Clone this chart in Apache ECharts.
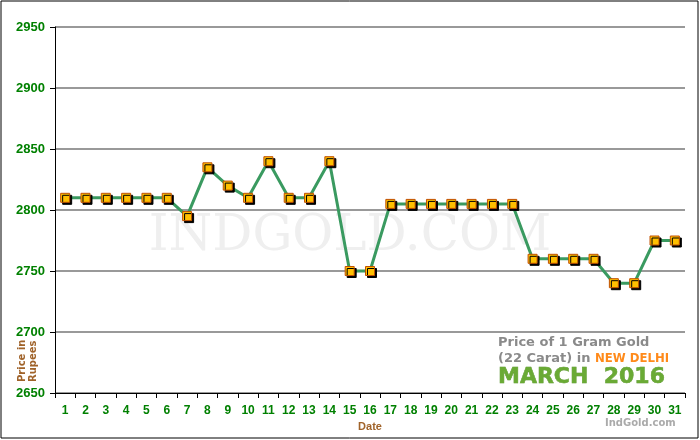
<!DOCTYPE html><html><head><meta charset="utf-8"><script src="https://cdn.jsdelivr.net/npm/echarts@6/dist/echarts.min.js"></script>
<style>body{margin:0}#c{width:700px;height:440px}</style></head><body><div id="c"></div><script>
const dates=['1','2','3','4','5','6','7','8','9','10','11','12','13','14','15','16','17','18','19','20','21','22','23','24','25','26','27','28','29','30','31'];
const prices=[2810,2810,2810,2810,2810,2810,2795,2835,2820,2810,2840,2810,2810,2840,2750,2750,2805,2805,2805,2805,2805,2805,2805,2760,2760,2760,2760,2740,2740,2775,2775];
const yTicks=[2650,2700,2750,2800,2850,2900,2950];
const c=echarts.init(document.getElementById('c'));
c.setOption({
animation:false,backgroundColor:'#fff',
grid:{left:55,right:15,top:27,bottom:47},
graphic:[
{type:'rect',shape:{x:1,y:1,width:697,height:437},style:{fill:'none',stroke:'#000',lineWidth:1}},
{type:'text',left:'center',top:212,z:0,style:{text:'INDGOLD.COM',font:'50px "DejaVu Serif"',fill:'#efefef'}},
{type:'text',x:498,y:336,style:{text:'Price of 1 Gram Gold',font:'bold 13px "DejaVu Sans"',fill:'#8a8a8a'}},
{type:'text',x:498,y:352,style:{rich:{a:{font:'bold 13px "DejaVu Sans"',fill:'#8a8a8a'},b:{font:'bold 13px "DejaVu Sans Condensed"',fill:'#ff8a1a'}},text:'{a|(22 Carat) in }{b|NEW DELHI}'}},
{type:'text',x:498,y:366,style:{text:'MARCH  2016',font:'bold 22px "DejaVu Sans"',fill:'#6aaa35',stroke:'#4d8a20',lineWidth:0.5}},
{type:'text',x:605,y:418,style:{text:'IndGold.com',font:'bold 10px "DejaVu Sans"',fill:'#aaa'}},
{type:'text',x:28,y:382,rotation:Math.PI/2,style:{text:'Price in\nRupees',font:'bold 10px "DejaVu Sans"',fill:'#a0632a',align:'left',verticalAlign:'middle',lineHeight:11}}
],
xAxis:{type:'category',data:dates,boundaryGap:true,name:'Date',nameLocation:'middle',nameGap:24,nameTextStyle:{color:'#a0632a',fontWeight:'bold',fontSize:11},
axisLine:{lineStyle:{color:'#000'}},axisTick:{show:true,lineStyle:{color:'#000'}},
axisLabel:{color:'#008000',fontWeight:'bold',fontSize:12,margin:12}},
yAxis:{type:'value',min:yTicks[0],max:yTicks[yTicks.length-1],interval:50,axisLine:{show:true,lineStyle:{color:'#000'}},axisTick:{show:true,lineStyle:{color:'#000'}},
axisLabel:{color:'#008000',fontWeight:'bold',fontSize:13,margin:10,formatter:v=>String(v)},
splitLine:{lineStyle:{color:'#777',width:1.5}}},
series:[{type:'line',data:prices,symbol:'rect',symbolSize:9,
lineStyle:{color:'#3a9a60',width:3},
itemStyle:{color:'#ffc000',borderColor:'#c05000',borderWidth:1,shadowColor:'#000',shadowOffsetX:2,shadowOffsetY:2}}]
});
</script></body></html>
